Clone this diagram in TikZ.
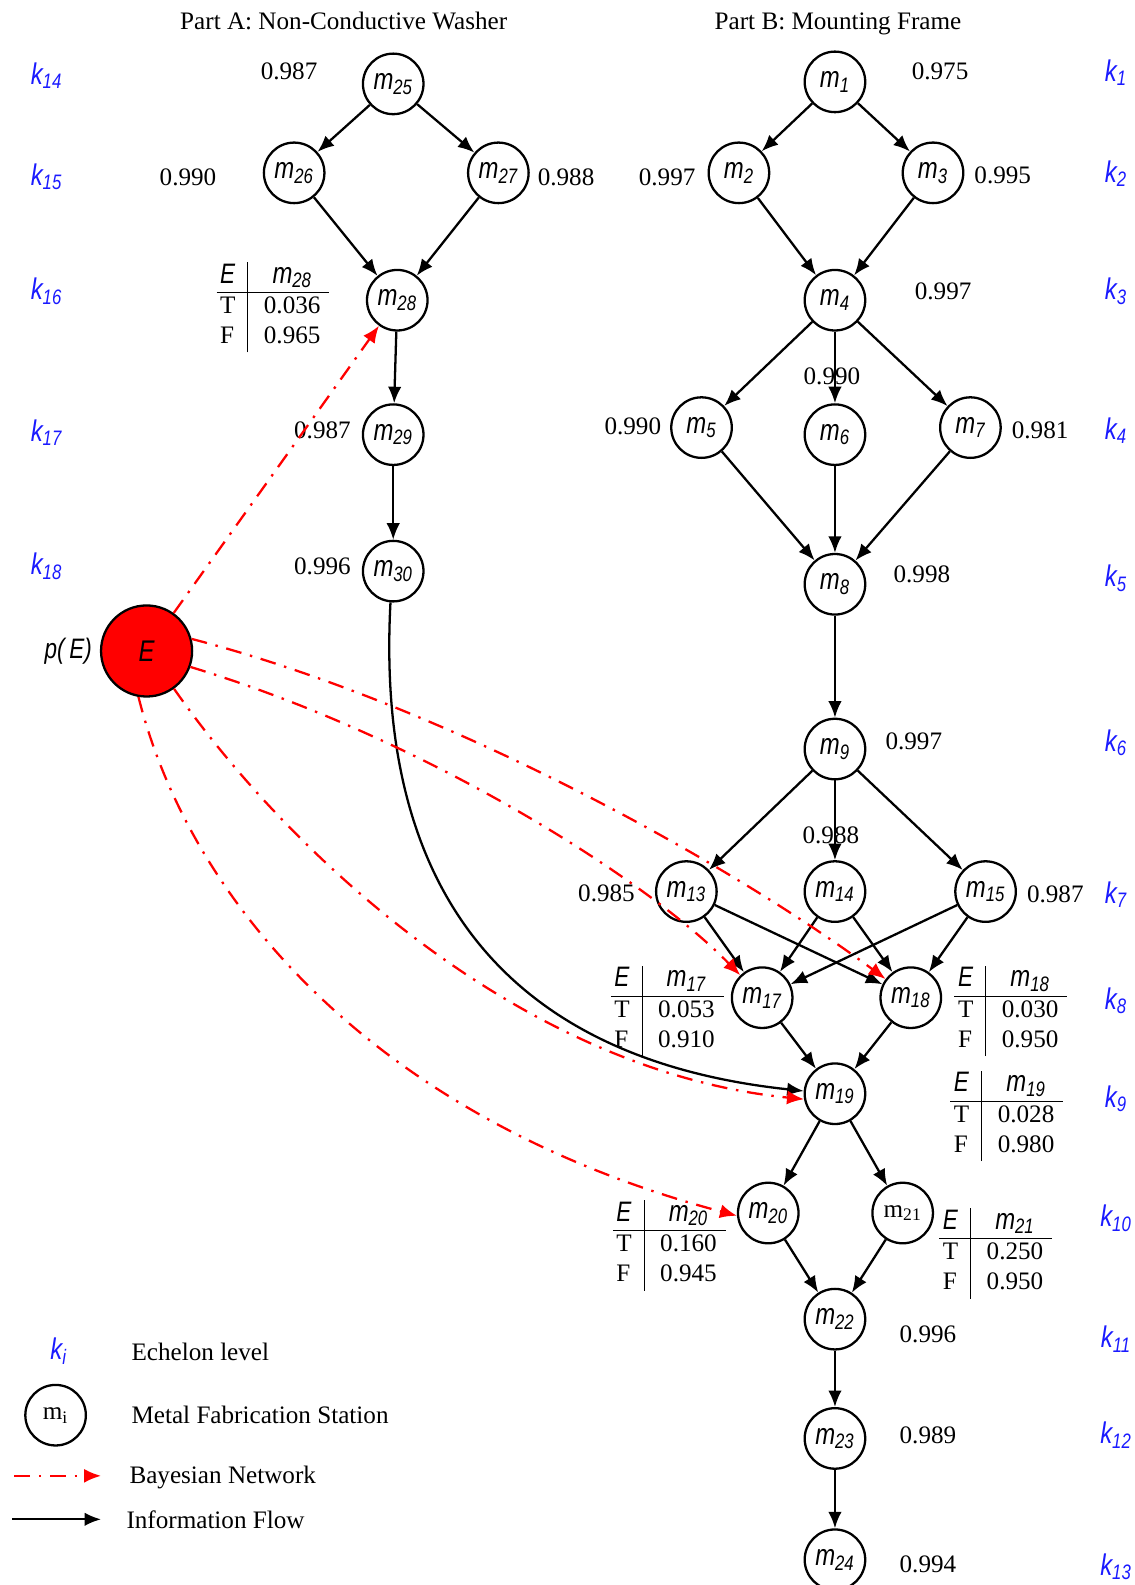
\documentclass[tikz,border=0pt]{standalone}
\usepackage{fontspec}
\setmainfont{Liberation Serif}
\newfontfamily\narrowsans{Liberation Sans}[FakeStretch=0.8]
\usepackage{tikz}
\usetikzlibrary{arrows.meta,positioning,calc}
\definecolor{Ink}{HTML}{000000}
\definecolor{Level}{HTML}{1A1AFF}
\definecolor{Alarm}{HTML}{FF0000}
\newcommand{\mlab}[1]{{\narrowsans\itshape\fontsize{17}{19}\selectfont m\textsubscript{#1}}}
\newcommand{\klab}[1]{{\narrowsans\itshape\fontsize{17}{19}\selectfont\color{Level}k\textsubscript{#1}}}
\newcommand{\cpt}[3]{%
  \begin{tabular}{@{\hspace{2pt}}l@{\hspace{7pt}}|@{\hspace{9pt}}c@{\hspace{5pt}}}
  {\narrowsans\itshape\fontsize{16}{18}\selectfont E} & \mlab{#1}\\\hline
  T & #2\\
  F & #3
  \end{tabular}}
\tikzset{
  station/.style={circle,draw=Ink,line width=1.3pt,minimum size=1.21cm,inner sep=0pt},
  event/.style={station,fill=Alarm,minimum size=1.82cm},
  prob/.style={inner sep=1pt},
  level/.style={inner sep=1pt},
  cptbox/.style={inner sep=0pt},
  flow/.style={-{Latex[length=3.3mm,width=2.7mm]},line width=1.3pt,draw=Ink},
  bayes/.style={-{Latex[length=3.4mm,width=2.8mm]},line width=1.3pt,draw=Alarm,dash pattern=on 9pt off 5pt on 1.4pt off 5pt}
}

\begin{document}
\begin{tikzpicture}[x=0.0202cm,y=-0.0202cm,font=\fontsize{14.3}{17}\selectfont]
\useasboundingbox (0,0) rectangle (1122,1568);
% titles
\node[anchor=base] (titleA) at (340,29) {Part A: Non-Conductive Washer};
\node[anchor=base] (titleB) at (829,29) {Part B: Mounting Frame};
% echelon levels
\foreach \k/\y in {14/75,15/175,16/288,17/428,18/560}
  \node[level] (k\k) at (46,\y) {\klab{\k}};
\foreach \k/\y in {1/72,2/172,3/288,4/426,5/572,6/735,7/885,8/990,9/1087,10/1205,11/1325,12/1420,13/1550}
  \node[level] (k\k) at (1104,\y) {\klab{\k}};
% part A stations
\foreach \m/\x/\y in {25/389/83,26/291/171,27/493/171,28/393/297,29/389/430,30/389/565}
  \node[station] (m\m) at (\x,\y) {\mlab{\m}};
% part B stations
\foreach \m/\x/\y in {1/826/81,2/731/171,3/923/171,4/826/297,5/694/423,6/826/430,7/960/423,8/826/578,9/826/741,
  13/679/882,14/826/882,15/975/882,17/754/987,18/901/987,19/826/1082,20/760/1200,22/826/1305,23/826/1423,24/826/1543}
  \node[station] (m\m) at (\x,\y) {\mlab{\m}};
\node[station] (m21) at (893,1200) {m\textsubscript{21}};
\node[event] (E) at (145,644) {\narrowsans\itshape\fontsize{17}{19}\selectfont E};
\node[left=1pt of E] (pE) {\narrowsans\itshape\fontsize{16}{18}\selectfont p(\,E)};
% reliabilities
\foreach \m/\x/\y/\v in {25/286/71/0.987,26/186/175/0.990,27/560/175/0.988,29/319/426/0.987,30/319/560/0.996,
  1/930/71/0.975,2/660/175/0.997,3/992/173/0.995,4/933/288/0.997,6/823/372/0.990,5/626/422/0.990,7/1029/426/0.981,
  8/912/568/0.998,9/904/733/0.997,14/822/826/0.988,13/600/884/0.985,15/1044/885/0.987,22/918/1320/0.996,
  23/918/1420/0.989,24/918/1548/0.994}
  \node[prob] (r\m) at (\x,\y) {\v};
% conditional tables
\node[cptbox] (t28) at (270,304) {\cpt{28}{0.036}{0.965}};
\node[cptbox] (t17) at (660,1000) {\cpt{17}{0.053}{0.910}};
\node[cptbox] (t18) at (1000,1000) {\cpt{18}{0.030}{0.950}};
\node[cptbox] (t19) at (996,1104) {\cpt{19}{0.028}{0.980}};
\node[cptbox] (t20) at (662,1232) {\cpt{20}{0.160}{0.945}};
\node[cptbox] (t21) at (985,1240) {\cpt{21}{0.250}{0.950}};
% information flow
\foreach \a/\b in {25/26,25/27,26/28,27/28,28/29,29/30,1/2,1/3,2/4,3/4,4/5,4/6,4/7,5/8,6/8,7/8,8/9,
  9/13,9/14,9/15,13/17,13/18,14/17,14/18,15/17,15/18,17/19,18/19,19/20,19/21,20/22,21/22,22/23,23/24}
  \draw[flow] (m\a) -- (m\b);
\draw[flow] (m30.-95) .. controls (370,900) and (520,1050) .. (m19.175);
% bayesian network
\draw[bayes] (E) -- (m28);
\draw[bayes] (E.15) .. controls (450,700) and (730,860) .. (m18);
\draw[bayes] (E.-20) .. controls (420,730) and (640,870) .. (m17);
\draw[bayes] (E.-54) .. controls (290,850) and (520,1060) .. (m19.190);
\draw[bayes] (E.-100) .. controls (190,900) and (380,1110) .. (m20.185);
% legend
\node[level] (lk) at (58,1337) {\klab{i}};
\node[right] (lkt) at (124,1337) {Echelon level};
\node[station] (lm) at (55,1400) {m\textsubscript{i}};
\node[right] (lmt) at (124,1400) {Metal Fabrication Station};
\coordinate (lb1) at (14,1460);
\coordinate (lb2) at (100,1460);
\draw[bayes] (lb1) -- (lb2);
\node[right] (lbt) at (122,1462) {Bayesian Network};
\coordinate (lf1) at (12,1503);
\coordinate (lf2) at (100,1503);
\draw[flow] (lf1) -- (lf2);
\node[right] (lft) at (119,1503) {Information Flow};
\end{tikzpicture}
\end{document}
